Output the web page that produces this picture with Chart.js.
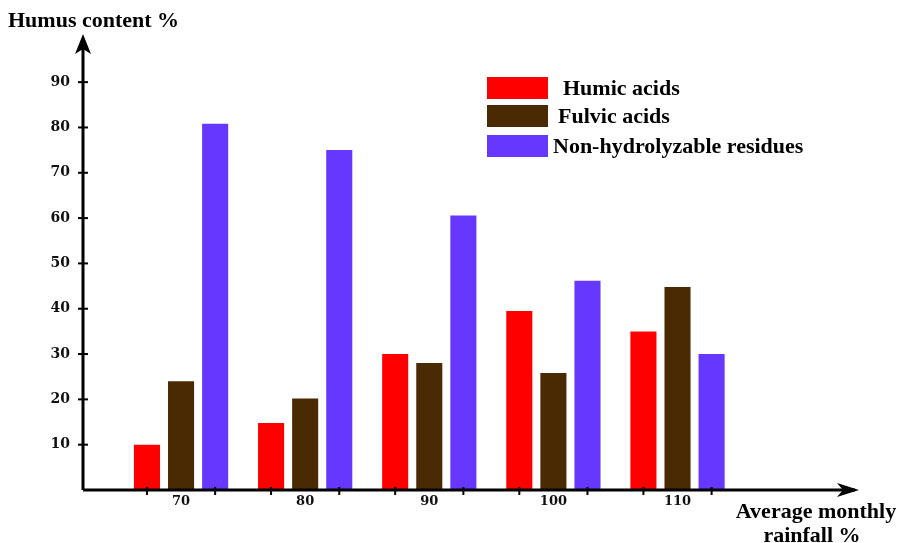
<!DOCTYPE html>
<html><head><meta charset="utf-8">
<script src="https://cdn.jsdelivr.net/npm/chart.js@4"></script>
<style>html,body{margin:0;padding:0;background:#fff;overflow:hidden}#wrap{width:903px;height:543px;position:relative}</style>
</head><body><div id="wrap"><canvas id="c"></canvas></div>
<script>
const rainfall = [70, 80, 90, 100, 110];
const humicAcids = [10, 14.8, 30, 39.5, 35];
const fulvicAcids = [24, 20.2, 28, 25.8, 44.8];
const nonHydrolyzable = [80.8, 75, 60.6, 46.2, 30];
const yTickValues = [10, 20, 30, 40, 50, 60, 70, 80, 90];
const seriesNames = ['Humic acids', 'Fulvic acids', 'Non-hydrolyzable residues'];
const seriesColors = ['#ff0000', '#4a2a02', '#6638ff'];
const yTitle = 'Humus content %';
const xTitle = ['Average monthly', 'rainfall %'];

const toPts = arr => arr.map((v, i) => ({x: rainfall[i], y: v}));
const serifBold = '"Liberation Serif", "Times New Roman", serif';

const decor = {
  id: 'decor',
  afterDraw(chart) {
    const ctx = chart.ctx, a = chart.chartArea;
    const L = a.left, B = a.bottom;
    ctx.save();
    ctx.fillStyle = '#000'; ctx.strokeStyle = '#000';
    // y axis + arrow
    ctx.lineWidth = 3;
    ctx.beginPath(); ctx.moveTo(L, B); ctx.lineTo(L, a.top); ctx.stroke();
    ctx.beginPath();
    ctx.moveTo(L, a.top - 6); ctx.lineTo(L + 8, a.top + 14); ctx.lineTo(L, a.top + 9); ctx.lineTo(L - 8, a.top + 14); ctx.closePath(); ctx.fill();
    // x axis + arrow
    ctx.beginPath(); ctx.moveTo(L, B); ctx.lineTo(a.right, B); ctx.stroke();
    ctx.beginPath();
    ctx.moveTo(a.right + 4, B); ctx.lineTo(a.right - 18, B - 7); ctx.lineTo(a.right - 12, B); ctx.lineTo(a.right - 18, B + 7); ctx.closePath(); ctx.fill();
    // y tick marks crossing the axis
    const ys = chart.scales.y;
    ctx.lineWidth = 2;
    yTickValues.forEach(v => {
      const py = ys.getPixelForValue(v);
      ctx.beginPath(); ctx.moveTo(L - 5, py); ctx.lineTo(L + 5, py); ctx.stroke();
    });
    // x tick marks at first and last bar centres of each group
    const m0 = chart.getDatasetMeta(0), m2 = chart.getDatasetMeta(2);
    ctx.lineWidth = 2;
    [m0, m2].forEach(m => m.data.forEach(el => {
      ctx.beginPath(); ctx.moveTo(el.x, B - 3); ctx.lineTo(el.x, B + 5); ctx.stroke();
    }));
    // titles
    ctx.font = 'bold 22px ' + serifBold;
    ctx.textBaseline = 'alphabetic';
    ctx.textAlign = 'left';
    ctx.fillText(yTitle, 8, 27);
    ctx.textAlign = 'center';
    ctx.fillText(xTitle[0], 816, 518);
    ctx.fillText(xTitle[1], 812, 542);
    // legend
    const boxX = 487, boxW = 61, boxH = 22, rowTops = [77, 105, 135], textX = [563, 558, 553];
    chart.data.datasets.forEach((ds, i) => {
      ctx.fillStyle = ds.backgroundColor;
      ctx.fillRect(boxX, rowTops[i], boxW, boxH);
      ctx.fillStyle = '#000';
      ctx.textAlign = 'left';
      ctx.textBaseline = 'middle';
      ctx.font = 'bold 22px ' + serifBold;
      ctx.fillText(ds.label, textX[i], rowTops[i] + boxH / 2 + 1);
    });
    ctx.restore();
  }
};

new Chart(document.getElementById('c'), {
  type: 'bar',
  data: {
    datasets: [
      {label: seriesNames[0], data: toPts(humicAcids), backgroundColor: seriesColors[0]},
      {label: seriesNames[1], data: toPts(fulvicAcids), backgroundColor: seriesColors[1]},
      {label: seriesNames[2], data: toPts(nonHydrolyzable), backgroundColor: seriesColors[2]}
    ]
  },
  options: {
    responsive: true,
    maintainAspectRatio: false,
    animation: false,
    events: [],
    layout: {padding: {left: 0, right: 48, top: 40, bottom: 0}},
    datasets: {bar: {categoryPercentage: 0.824, barPercentage: 0.765, borderWidth: 0}},
    plugins: {legend: {display: false}, tooltip: {enabled: false}},
    scales: {
      x: {
        type: 'linear',
        offset: false,
        min: 62.1,
        max: 124.3,
        afterBuildTicks: s => { s.ticks = rainfall.map(v => ({value: v})); },
        afterFit: s => { s.height = 53; },
        grid: {display: false, drawTicks: false, offset: false},
        border: {display: false},
        ticks: {color: '#111', padding: 4, font: {family: '"DejaVu Serif", serif', weight: 'bold', size: 13}, callback: v => String(v)}
      },
      y: {
        type: 'linear',
        min: 0,
        max: 99.3,
        afterBuildTicks: s => { s.ticks = yTickValues.map(v => ({value: v})); },
        afterFit: s => { s.width = 83; },
        grid: {display: false, drawTicks: false},
        border: {display: false},
        ticks: {color: '#111', padding: 13, font: {family: '"DejaVu Serif", serif', weight: 'bold', size: 14}, callback: v => String(v)}
      }
    }
  },
  plugins: [decor]
});
</script>
</body></html>
